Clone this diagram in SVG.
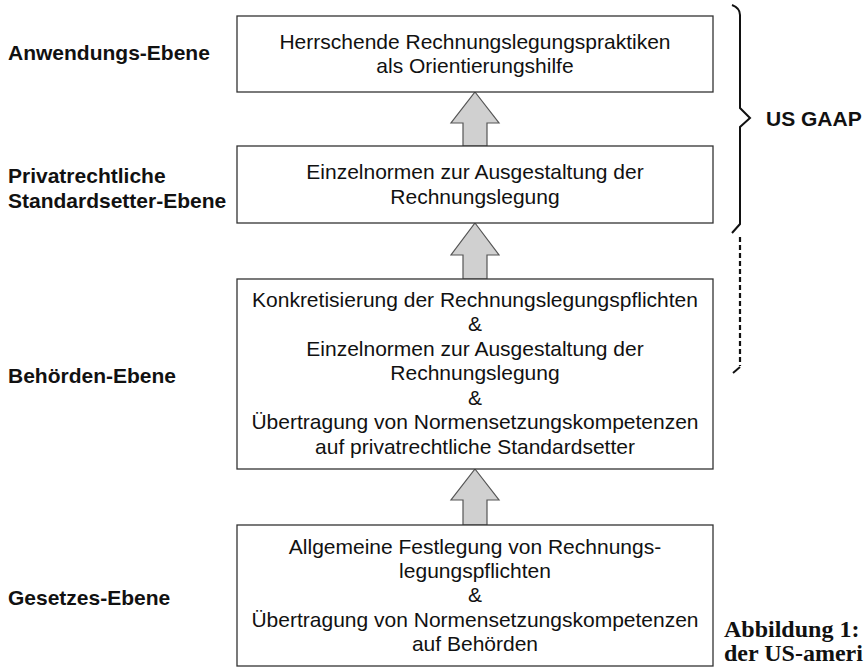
<svg xmlns="http://www.w3.org/2000/svg" width="867" height="671" viewBox="0 0 867 671">
  <style>
    .box { fill: #ffffff; stroke: #333333; stroke-width: 1.3; }
    .txt { font-family: "Liberation Sans", Arial, sans-serif; font-size: 21px; fill: #111111; text-anchor: middle; }
    .lbl { font-family: "Liberation Sans", Arial, sans-serif; font-size: 21px; font-weight: bold; fill: #111111; }
    .cap { font-family: "Liberation Serif", "Times New Roman", serif; font-size: 24px; font-weight: bold; fill: #111111; }
    .arrow { fill: #d0d0d0; stroke: #555555; stroke-width: 1.2; stroke-linejoin: miter; }
    .brace { fill: none; stroke: #111111; stroke-width: 2; }
    .dash { fill: none; stroke: #111111; stroke-width: 2.2; stroke-dasharray: 5 3; }
  </style>
  <rect width="867" height="671" fill="#ffffff"/>

  <!-- level labels -->
  <g id="labels">
    <text class="lbl" x="8" y="60">Anwendungs-Ebene</text>
    <text class="lbl" x="8" y="183">Privatrechtliche</text>
    <text class="lbl" x="8" y="208">Standardsetter-Ebene</text>
    <text class="lbl" x="8" y="383">Behörden-Ebene</text>
    <text class="lbl" x="8" y="605">Gesetzes-Ebene</text>
  </g>

  <!-- connectors: block arrows between the levels -->
  <g id="connectors">
    <path class="arrow" d="M475,92 L499,123 L487,123 L487,146 L463,146 L463,123 L451,123 Z"/>
    <path class="arrow" d="M475,223 L499,255 L487,255 L487,279 L463,279 L463,255 L451,255 Z"/>
    <path class="arrow" d="M475,469 L499,500 L487,500 L487,525 L463,525 L463,500 L451,500 Z"/>
  </g>

  <g id="anwendung">
    <rect class="box" x="237" y="16" width="476" height="76"/>
    <text class="txt" x="475" y="49">Herrschende Rechnungslegungspraktiken</text>
    <text class="txt" x="475" y="73">als Orientierungshilfe</text>
  </g>

  <g id="standardsetter">
    <rect class="box" x="237" y="146" width="476" height="77"/>
    <text class="txt" x="475" y="179">Einzelnormen zur Ausgestaltung der</text>
    <text class="txt" x="475" y="204">Rechnungslegung</text>
  </g>

  <g id="behoerden">
    <rect class="box" x="237" y="279" width="476" height="190"/>
    <text class="txt" x="475" y="307">Konkretisierung der Rechnungslegungspflichten</text>
    <text class="txt" x="475" y="331">&amp;</text>
    <text class="txt" x="475" y="356">Einzelnormen zur Ausgestaltung der</text>
    <text class="txt" x="475" y="380">Rechnungslegung</text>
    <text class="txt" x="475" y="405">&amp;</text>
    <text class="txt" x="475" y="429">Übertragung von Normensetzungskompetenzen</text>
    <text class="txt" x="475" y="454">auf privatrechtliche Standardsetter</text>
  </g>

  <g id="gesetz">
    <rect class="box" x="237" y="525" width="476" height="141"/>
    <text class="txt" x="475" y="554">Allgemeine Festlegung von Rechnungs-</text>
    <text class="txt" x="475" y="578">legungspflichten</text>
    <text class="txt" x="475" y="602">&amp;</text>
    <text class="txt" x="475" y="627">Übertragung von Normensetzungskompetenzen</text>
    <text class="txt" x="475" y="651">auf Behörden</text>
  </g>

  <!-- brace spanning the US GAAP levels -->
  <g id="us-gaap">
    <path class="brace" d="M732,5 Q740,8 740,15 L740,108 L750,118 L740,127 L740,224 L732,233"/>
    <path class="dash" d="M740,237 L740,366"/>
    <path class="brace" d="M740,367 L733,373"/>
    <text class="lbl" x="766" y="126">US GAAP</text>
  </g>

  <g id="caption">
    <text class="cap" x="724" y="637">Abbildung 1:</text>
    <text class="cap" x="724" y="661">der US-ameri</text>
  </g>
</svg>
